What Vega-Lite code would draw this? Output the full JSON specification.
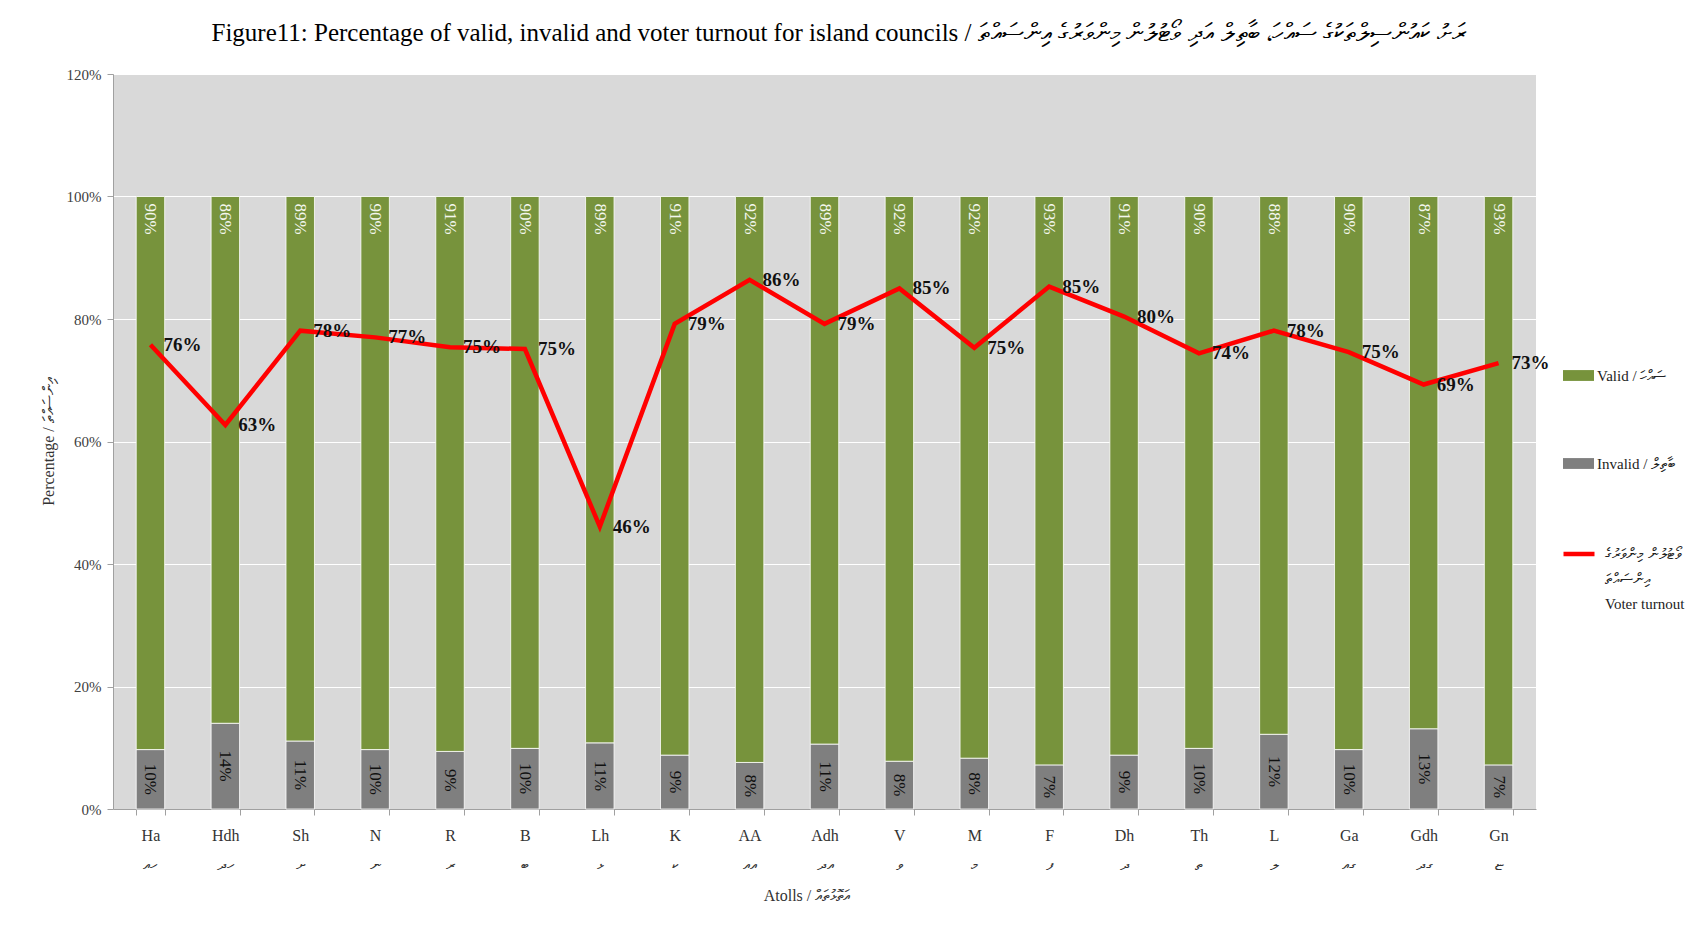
{
  "$schema": "https://vega.github.io/schema/vega-lite/v6.json",
  "autosize": {"type": "none"},
  "padding": {"left": 113, "top": 74, "right": 162, "bottom": 117},
  "width": 1423,
  "height": 735,
  "background": "white",
  "config": {
    "font": "Liberation Serif",
    "view": {"fill": "#d9d9d9", "stroke": null},
    "axis": {"labelFont": "Liberation Serif", "titleFont": "Liberation Serif", "titleFontWeight": "normal"},
    "legend": {"labelFont": "Liberation Serif", "padding": 0}
  },
  "title": {
    "text": "Figure11: Percentage of valid, invalid and voter turnout for island councils / ރަށު ކައުންސިލްތަކުގެ ސައްހަ، ބާތިލް އަދި ވޯޓުލުން މިންވަރުގެ އިންސައްތަ",
    "font": "Liberation Serif",
    "fontSize": 25,
    "fontWeight": "normal",
    "color": "#000000",
    "anchor": "middle",
    "offset": 21,
    "dx": 14
  },
  "datasets": {
    "bars": [
      {"atoll": "Ha", "type": "Invalid", "value": 0.097}, {"atoll": "Ha", "type": "Valid", "value": 0.903},
      {"atoll": "Hdh", "type": "Invalid", "value": 0.14}, {"atoll": "Hdh", "type": "Valid", "value": 0.86},
      {"atoll": "Sh", "type": "Invalid", "value": 0.111}, {"atoll": "Sh", "type": "Valid", "value": 0.889},
      {"atoll": "N", "type": "Invalid", "value": 0.097}, {"atoll": "N", "type": "Valid", "value": 0.903},
      {"atoll": "R", "type": "Invalid", "value": 0.094}, {"atoll": "R", "type": "Valid", "value": 0.906},
      {"atoll": "B", "type": "Invalid", "value": 0.099}, {"atoll": "B", "type": "Valid", "value": 0.901},
      {"atoll": "Lh", "type": "Invalid", "value": 0.108}, {"atoll": "Lh", "type": "Valid", "value": 0.892},
      {"atoll": "K", "type": "Invalid", "value": 0.088}, {"atoll": "K", "type": "Valid", "value": 0.912},
      {"atoll": "AA", "type": "Invalid", "value": 0.076}, {"atoll": "AA", "type": "Valid", "value": 0.924},
      {"atoll": "Adh", "type": "Invalid", "value": 0.106}, {"atoll": "Adh", "type": "Valid", "value": 0.894},
      {"atoll": "V", "type": "Invalid", "value": 0.078}, {"atoll": "V", "type": "Valid", "value": 0.922},
      {"atoll": "M", "type": "Invalid", "value": 0.083}, {"atoll": "M", "type": "Valid", "value": 0.917},
      {"atoll": "F", "type": "Invalid", "value": 0.072}, {"atoll": "F", "type": "Valid", "value": 0.928},
      {"atoll": "Dh", "type": "Invalid", "value": 0.088}, {"atoll": "Dh", "type": "Valid", "value": 0.912},
      {"atoll": "Th", "type": "Invalid", "value": 0.099}, {"atoll": "Th", "type": "Valid", "value": 0.901},
      {"atoll": "L", "type": "Invalid", "value": 0.122}, {"atoll": "L", "type": "Valid", "value": 0.878},
      {"atoll": "Ga", "type": "Invalid", "value": 0.097}, {"atoll": "Ga", "type": "Valid", "value": 0.903},
      {"atoll": "Gdh", "type": "Invalid", "value": 0.131}, {"atoll": "Gdh", "type": "Valid", "value": 0.869},
      {"atoll": "Gn", "type": "Invalid", "value": 0.072}, {"atoll": "Gn", "type": "Valid", "value": 0.928}
    ],
    "turnout": [
      {"atoll": "Ha", "turnout": 0.758}, {"atoll": "Hdh", "turnout": 0.627}, {"atoll": "Sh", "turnout": 0.781},
      {"atoll": "N", "turnout": 0.77}, {"atoll": "R", "turnout": 0.754}, {"atoll": "B", "turnout": 0.751},
      {"atoll": "Lh", "turnout": 0.461}, {"atoll": "K", "turnout": 0.792}, {"atoll": "AA", "turnout": 0.864},
      {"atoll": "Adh", "turnout": 0.792}, {"atoll": "V", "turnout": 0.85}, {"atoll": "M", "turnout": 0.753},
      {"atoll": "F", "turnout": 0.853}, {"atoll": "Dh", "turnout": 0.804}, {"atoll": "Th", "turnout": 0.744},
      {"atoll": "L", "turnout": 0.781}, {"atoll": "Ga", "turnout": 0.746}, {"atoll": "Gdh", "turnout": 0.693},
      {"atoll": "Gn", "turnout": 0.728}
    ]
  },
  "encoding": {
    "x": {
      "field": "atoll",
      "type": "nominal",
      "sort": null,
      "scale": {"paddingInner": 0.62, "paddingOuter": 0.31},
      "axis": {
        "title": "Atolls / އަތޮޅުތައް",
        "titleFontSize": 16,
        "titleColor": "#333333",
        "titleX": 693,
        "titleY": 86,
        "titleBaseline": "middle",
        "titleAlign": "center",
        "labelAngle": 0,
        "labelFontSize": 16,
        "labelColor": "#333333",
        "labelBaseline": "top",
        "labelPadding": 12,
        "labelLineHeight": 29,
        "labelExpr": "[datum.value, ['ހއ','ހދ','ށ','ނ','ރ','ބ','ޅ','ކ','އއ','އދ','ވ','މ','ފ','ދ','ތ','ލ','ގއ','ގދ','ޏ'][indexof(['Ha','Hdh','Sh','N','R','B','Lh','K','AA','Adh','V','M','F','Dh','Th','L','Ga','Gdh','Gn'], datum.value)]]",
        "tickBand": "extent",
        "tickSize": 6,
        "tickColor": "#a0a0a0",
        "domainColor": "#a0a0a0",
        "grid": false
      }
    }
  },
  "layer": [
    {
      "layer": [
        {
          "data": {"name": "bars"},
          "mark": {"type": "bar", "stroke": "#ffffff", "strokeWidth": 0.8},
          "encoding": {
            "y": {
              "field": "value",
              "type": "quantitative",
              "stack": "zero",
              "title": "Percentage / އިންސައްތަ",
              "scale": {"domain": [0, 1.2], "nice": false},
              "axis": {
                "titleFontSize": 16,
                "titleColor": "#333333",
                "titleX": -65,
                "titleBaseline": "middle",
                "format": ".0%",
                "values": [0, 0.2, 0.4, 0.6, 0.8, 1.0, 1.2],
                "labelFontSize": 15,
                "labelColor": "#404040",
                "labelPadding": 6,
                "tickSize": 6,
                "tickColor": "#a0a0a0",
                "domainColor": "#a0a0a0",
                "grid": true,
                "gridColor": "#ffffff",
                "gridWidth": 1.2
              }
            },
            "color": {
              "field": "type",
              "type": "nominal",
              "scale": {"domain": ["Valid", "Invalid"], "range": ["#77933c", "#7f7f7f"]},
              "legend": {
                "title": null,
                "orient": "none",
                "legendX": 1450,
                "legendY": 286,
                "direction": "vertical",
                "rowPadding": 64,
                "symbolType": "M-1,-0.35L1,-0.35L1,0.35L-1,0.35Z",
                "symbolSize": 961,
                "symbolStrokeWidth": 0,
                "labelFontSize": 15,
                "labelColor": "#222222",
                "labelOffset": 3,
                "labelExpr": "datum.value == 'Valid' ? 'Valid / ސައްހަ' : 'Invalid / ބާތިލް'"
              }
            },
            "order": {"field": "type", "sort": "ascending"}
          }
        },
        {
          "data": {"name": "bars"},
          "transform": [{"filter": "datum.type == 'Valid'"}],
          "mark": {"type": "text", "angle": 90, "align": "left", "baseline": "middle", "dx": 7, "fontSize": 17, "color": "#f4f7ee"},
          "encoding": {
            "y": {"datum": 1, "type": "quantitative", "title": "Percentage / އިންސައްތަ"},
            "text": {"field": "value", "type": "quantitative", "format": ".0%"}
          }
        },
        {
          "data": {"name": "turnout"},
          "mark": {"type": "line", "strokeWidth": 4.5, "strokeJoin": "miter"},
          "encoding": {
            "y": {"field": "turnout", "type": "quantitative", "title": "Percentage / އިންސައްތަ"},
            "stroke": {
              "datum": "Voter turnout",
              "scale": {"range": ["#ff0000"]},
              "legend": {
                "title": null,
                "orient": "none",
                "legendX": 1448,
                "legendY": 462,
                "symbolType": "stroke",
                "symbolSize": 961,
                "symbolStrokeWidth": 4.5,
                "labelFontSize": 15,
                "labelColor": "#222222",
                "labelOffset": 8,
                "labelLimit": 200,
                "labelExpr": "['ވޯޓުލުން މިންވަރުގެ', 'އިންސައްތަ', 'Voter turnout']",
                "encode": {"labels": {"update": {"lineHeight": {"value": 25}}}}
              }
            }
          }
        },
        {
          "data": {"name": "turnout"},
          "mark": {"type": "text", "align": "left", "baseline": "middle", "dx": 13, "fontSize": 19, "fontWeight": "bold", "color": "#111111"},
          "encoding": {
            "y": {"field": "turnout", "type": "quantitative", "title": "Percentage / އިންސައްތަ"},
            "text": {"field": "turnout", "type": "quantitative", "format": ".0%"}
          }
        }
      ]
    },
    {
      "data": {"name": "bars"},
      "transform": [{"filter": "datum.type == 'Invalid'"}],
      "mark": {"type": "text", "angle": 90, "align": "center", "baseline": "middle", "fontSize": 17, "color": "#111111"},
      "encoding": {
        "y": {"field": "value", "type": "quantitative", "scale": {"domain": [0, 2.4], "nice": false}, "axis": null},
        "text": {"field": "value", "type": "quantitative", "format": ".0%"}
      }
    }
  ],
  "resolve": {"scale": {"y": "independent"}}
}
